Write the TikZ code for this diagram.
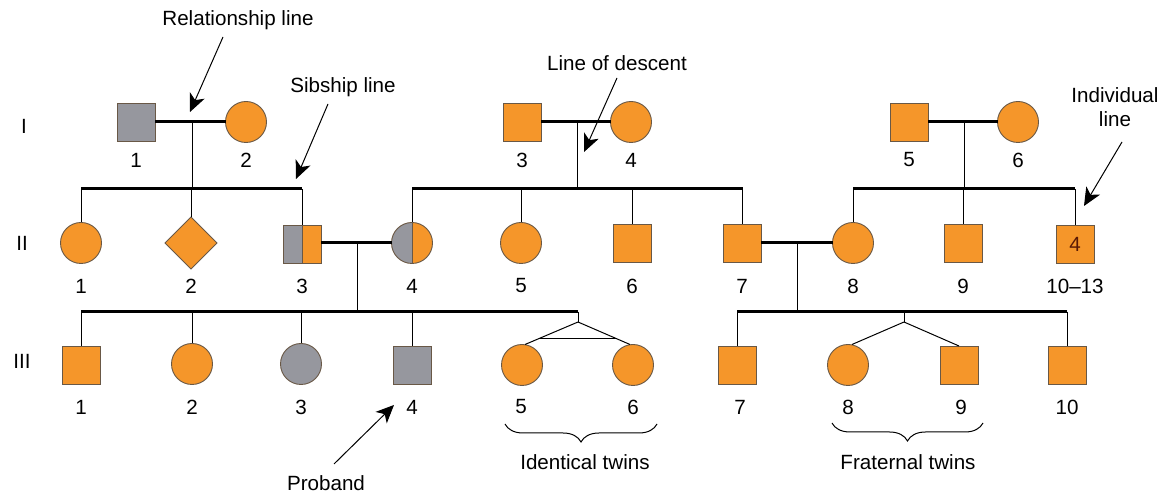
\documentclass[tikz,border=0pt]{standalone}
\usepackage{fontspec}
\setmainfont{Liberation Sans}
\usetikzlibrary{shapes.geometric,arrows.meta,calc,decorations.pathreplacing}
\definecolor{orng}{RGB}{245,150,42}
\definecolor{gry}{RGB}{150,151,158}
\definecolor{edge}{RGB}{105,88,70}
\definecolor{numred}{RGB}{90,25,5}
\tikzset{
  base/.style={draw=edge, line width=0.45pt, inner sep=0pt, outer sep=0pt},
  msq/.style={base, rectangle, fill=orng, minimum size=19pt},
  gsq/.style={msq, fill=gry},
  fcirc/.style={base, circle, fill=orng, minimum size=20.5pt},
  gcirc/.style={fcirc, fill=gry},
  dmd/.style={base, diamond, fill=orng, minimum width=26pt, minimum height=26pt},
  halfsq/.style={msq, path picture={\fill[gry] (path picture bounding box.south west) rectangle (path picture bounding box.north);
      \draw[edge, line width=0.45pt] (path picture bounding box.south) -- (path picture bounding box.north);}},
  halfcirc/.style={fcirc, path picture={\fill[gry] (path picture bounding box.south west) rectangle (path picture bounding box.north);
      \draw[edge, line width=0.45pt] (path picture bounding box.south) -- (path picture bounding box.north);}},
  lbl/.style={font=\fontsize{10.3pt}{12pt}\selectfont, inner sep=0pt},
  thick line/.style={line width=1.5pt, black},
  thin line/.style={line width=0.5pt, black},
  annot/.style={line width=0.5pt, black, -{Stealth[length=9pt,width=8pt,inset=2.5pt]}},
  twinbrace/.style={decorate, decoration={brace, mirror, amplitude=9pt}, line width=0.5pt}
}
\begin{document}
\begin{tikzpicture}[x=0.5pt,y=-0.5pt]
\useasboundingbox[fill=white] (0,0) rectangle (1164,496);

% ---------- Generation I ----------
\node[gsq]   (I1) at (136,122) {};
\node[fcirc] (I2) at (246,122) {};
\node[msq]   (I3) at (522,122) {};
\node[fcirc] (I4) at (631,122) {};
\node[msq]   (I5) at (909,122) {};
\node[fcirc] (I6) at (1018,122) {};
\foreach \n/\x in {1/136,2/246,3/522,4/631,5/909,6/1018}
  \node[lbl] (lI\n) at (\x,160) {\n};

% ---------- Generation II ----------
\node[fcirc]    (II1)  at (81,243) {};
\node[dmd]      (II2)  at (191,243) {};
\node[halfsq]   (II3)  at (302,244) {};
\node[halfcirc] (II4)  at (412,243) {};
\node[fcirc]    (II5)  at (521,243) {};
\node[msq]      (II6)  at (632,243) {};
\node[msq]      (II7)  at (742,243) {};
\node[fcirc]    (II8)  at (853,243) {};
\node[msq]      (II9)  at (963,243) {};
\node[msq, font=\fontsize{10.3pt}{12pt}\selectfont, text=numred] (II10) at (1075,244) {4};
\foreach \n/\x in {1/81,2/191,3/302,4/412,5/521,6/632,7/742,8/853,9/963}
  \node[lbl] (lII\n) at (\x,286) {\n};
\node[lbl] (lII10) at (1075,286) {10--13};

% ---------- Generation III ----------
\node[msq]   (III1)  at (81,365) {};
\node[fcirc] (III2)  at (192,364) {};
\node[gcirc] (III3)  at (301,364) {};
\node[gsq]   (III4)  at (412,365) {};
\node[fcirc] (III5)  at (522,365) {};
\node[fcirc] (III6)  at (633,365) {};
\node[msq]   (III7)  at (737,365) {};
\node[fcirc] (III8)  at (848,365) {};
\node[msq]   (III9)  at (959,365) {};
\node[msq]   (III10) at (1067,365) {};
\foreach \n/\x in {1/81,2/192,3/301,4/412,5/521,6/633,7/740,8/848,9/961,10/1067}
  \node[lbl] (lIII\n) at (\x,407) {\n};

% ---------- Generation labels ----------
\node[lbl] (gI)   at (24,126) {I};
\node[lbl] (gII)  at (22,243) {II};
\node[lbl] (gIII) at (22,361) {III};

% ---------- Relationship lines and descent ----------
\draw[thick line] (I1.east) -- (I2.west);
\draw[thick line] (I3.east) -- (I4.west);
\draw[thick line] (I5.east) -- (I6.west);
\draw[thick line] (II3.east |- II4.west) -- (II4.west);
\draw[thick line] (II7.east) -- (II8.west);

\coordinate (dA) at (192,122);
\coordinate (dB) at (577,122);
\coordinate (dC) at (964,122);
\coordinate (dD) at (357,243);
\coordinate (dE) at (797,243);

% sibship lines
\coordinate (sA1) at (81,189);   \coordinate (sA2) at (302,189);
\coordinate (sB1) at (412,189);  \coordinate (sB2) at (743,189);
\coordinate (sC1) at (853,189);  \coordinate (sC2) at (1075,189);
\coordinate (sD1) at (81,312);   \coordinate (sD2) at (578,312);
\coordinate (sE1) at (737,312);  \coordinate (sE2) at (1067,312);
\draw[thick line] (sA1) -- (sA2);
\draw[thick line] (sB1) -- (sB2);
\draw[thick line] (sC1) -- (sC2);
\draw[thick line] (sD1) -- (sD2);
\draw[thick line] (sE1) -- (sE2);

\draw[thin line] (dA) -- (dA |- sA1);
\draw[thin line] (dB) -- (dB |- sB1);
\draw[thin line] (dC) -- (dC |- sC1);
\draw[thin line] (dD) -- (dD |- sD1);
\draw[thin line] (dE) -- (dE |- sE1);

% individual lines
\foreach \c in {II1,II2,II3}
  \draw[thin line] (\c.north |- sA1) -- (\c.north);
\foreach \c in {II4,II5,II6,II7}
  \draw[thin line] (\c.north |- sB1) -- (\c.north);
\foreach \c in {II8,II9,II10}
  \draw[thin line] (\c.north |- sC1) -- (\c.north);
\foreach \c in {III1,III2,III3,III4}
  \draw[thin line] (\c.north |- sD1) -- (\c.north);
\foreach \c in {III7,III10}
  \draw[thin line] (\c.north |- sE1) -- (\c.north);

% identical twins
\coordinate (tw1) at (578,322);
\draw[thin line] (sD2) -- (tw1);
\draw[thin line] (tw1) -- ([xshift=1.5pt]III5.north);
\draw[thin line] (tw1) -- ([xshift=-1.5pt]III6.north);
\draw[thin line] ($(tw1)!0.73!([xshift=1.5pt]III5.north)$) -- ($(tw1)!0.73!([xshift=-1.5pt]III6.north)$);

% fraternal twins
\coordinate (tw2) at (904,322);
\draw[thin line] (tw2 |- sE1) -- (tw2);
\draw[thin line] (tw2) -- ([xshift=2pt]III8.north);
\draw[thin line] (tw2) -- (III9.north);

% ---------- Annotations ----------
\node[lbl] (tRel) at (238,20) {Relationship line};
\coordinate (aRel1) at (223,37);  \coordinate (aRel2) at (190,112);
\draw[annot] (aRel1) -- (aRel2);

\node[lbl] (tSib) at (343,87) {Sibship line};
\coordinate (aSib1) at (328,104);  \coordinate (aSib2) at (296,179);
\draw[annot] (aSib1) -- (aSib2);

\node[lbl] (tDes) at (617,63) {Line of descent};
\coordinate (aDes1) at (617,78);  \coordinate (aDes2) at (584,152);
\draw[annot] (aDes1) -- (aDes2);

\node[lbl, align=center] (tInd) at (1115,107) {Individual\\line};
\coordinate (aInd1) at (1122,142);  \coordinate (aInd2) at (1084,206);
\draw[annot] (aInd1) -- (aInd2);

\node[lbl] (tPro) at (326,483) {Proband};
\coordinate (aPro1) at (334,464);  \coordinate (aPro2) at (394,405);
\draw[annot] (aPro1) -- (aPro2);

\coordinate (bI1) at (505,424);  \coordinate (bI2) at (657,424);
\draw[twinbrace] (bI1) -- (bI2);
\node[lbl] (tIde) at (585,462) {Identical twins};

\coordinate (bF1) at (832,423);  \coordinate (bF2) at (983,423);
\draw[twinbrace] (bF1) -- (bF2);
\node[lbl] (tFra) at (908,462) {Fraternal twins};
\end{tikzpicture}
\end{document}
